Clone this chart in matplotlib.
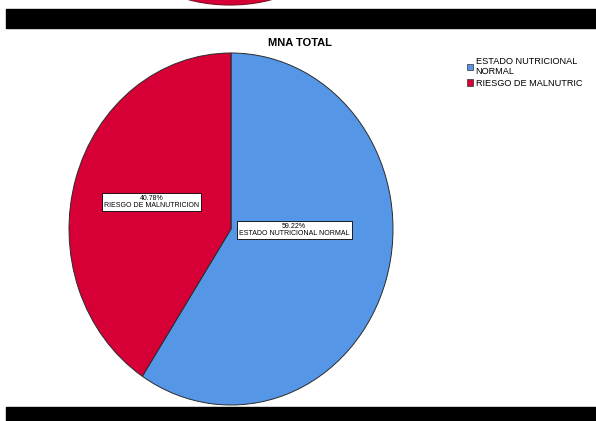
import matplotlib
matplotlib.use("Agg")
import matplotlib.pyplot as plt
from matplotlib.patches import Rectangle, Ellipse, Patch

plt.rcParams['font.family'] = ['Liberation Sans', 'DejaVu Sans']

# data
title = "MNA TOTAL"
categories = ["ESTADO NUTRICIONAL NORMAL", "RIESGO DE MALNUTRICION"]
legend_labels = ["ESTADO NUTRICIONAL\nNORMAL", "RIESGO DE MALNUTRIC"]
percents = [59.22, 40.78]
colors = ["#5596E6", "#D60036"]

W, H = 596, 421
fig = plt.figure(figsize=(W / 100, H / 100), dpi=100)


def px_rect(x0, y0, x1, y1):
    # pixel box (top-left origin) -> figure fraction rect
    return [x0 / W, 1 - y1 / H, (x1 - x0) / W, (y1 - y0) / H]


# black bands and the cut-off red shape at top
fig.patches.append(Rectangle((6 / W, 1 - 28 / H), 1, 19 / H, transform=fig.transFigure,
                             color="black", zorder=0))
fig.patches.append(Rectangle((6 / W, 0), 1, 14 / H, transform=fig.transFigure,
                             color="black", zorder=0))
fig.patches.append(Ellipse((230 / W, 1 + 40 / H), 176 / W, 90 / H, transform=fig.transFigure,
                           facecolor="#D60036", edgecolor="#7a1020", lw=0.8, zorder=0))

# pie (stretched like the original export)
ax = fig.add_axes(px_rect(69, 53, 393, 405))
wedges, _ = ax.pie(percents, colors=colors, startangle=90, counterclock=False,
                   wedgeprops=dict(edgecolor="#2b2b2b", linewidth=0.7))
ax.set_aspect("auto")
ax.set_xlim(-1, 1)
ax.set_ylim(-1, 1)
ax.axis("off")

label_pos = [(0.39, -0.005), (-0.49, 0.155)]
for (lx, ly), pct, cat in zip(label_pos, percents, categories):
    ax.text(lx, ly, f"{pct:.2f}%\n{cat}", ha="center", va="center", fontsize=5.0,
            linespacing=1.0,
            bbox=dict(boxstyle="square,pad=0.3", facecolor="white", edgecolor="black", lw=0.6))

fig.text(300 / W, 1 - 43 / H, title, ha="center", va="center", fontsize=8, fontweight="bold")

handles = [Patch(facecolor=c, edgecolor="#333333", lw=0.5) for c in colors]
fig.legend(handles, legend_labels, loc="upper left", bbox_to_anchor=(467 / W, 1 - 57 / H),
           frameon=False, fontsize=6.6, handlelength=0.7, handleheight=0.7,
           handletextpad=0.25, labelspacing=0.25, borderaxespad=0, borderpad=0)

fig.savefig("out.png", dpi=100)
